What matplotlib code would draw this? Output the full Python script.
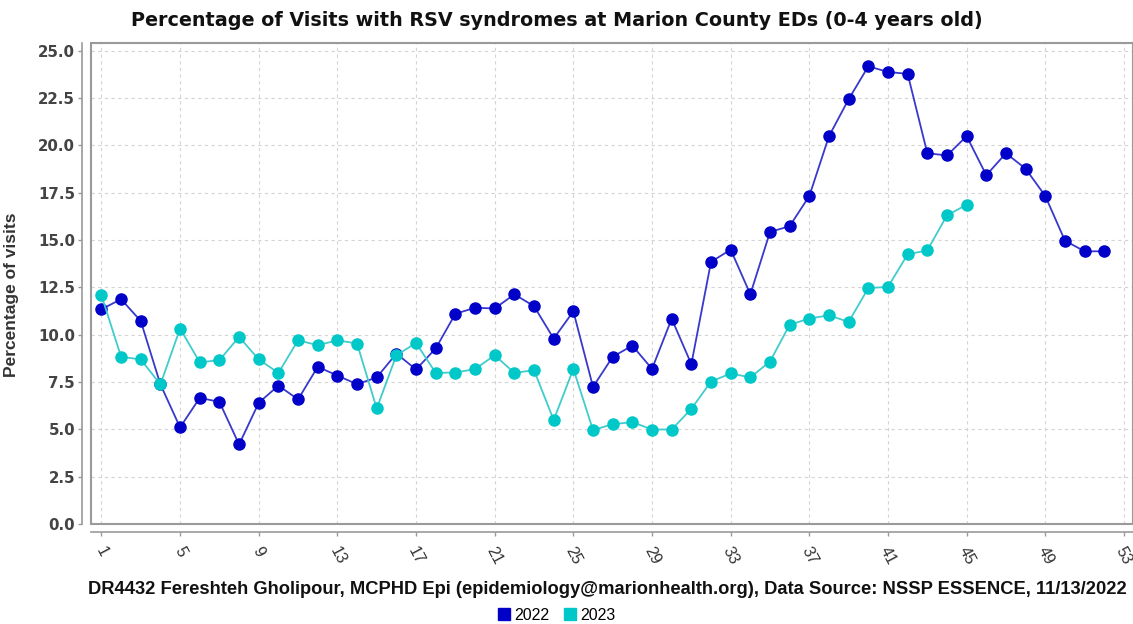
import matplotlib
matplotlib.use('Agg')
import matplotlib.pyplot as plt
from matplotlib import font_manager
from matplotlib.lines import Line2D
from matplotlib.patches import Rectangle

# ---------------- data ----------------
weeks_2022 = list(range(1, 53))
pct_2022 = [11.34, 11.87, 10.72, 7.37, 5.10, 6.66, 6.45, 4.20, 6.40, 7.31,
            6.58, 8.30, 7.84, 7.38, 7.74, 9.00, 8.16, 9.27, 11.10, 11.42,
            11.38, 12.13, 11.50, 9.79, 11.23, 7.24, 8.83, 9.42, 8.19, 10.84,
            8.44, 13.84, 14.49, 12.13, 15.42, 15.73, 17.32, 20.48, 22.43, 24.17,
            23.87, 23.77, 19.58, 19.46, 20.48, 18.42, 19.58, 18.76, 17.32, 14.96,
            14.40, 14.40]
weeks_2023 = list(range(1, 46))
pct_2023 = [12.08, 8.83, 8.69, 7.37, 10.32, 8.54, 8.65, 9.88, 8.69, 7.98,
            9.70, 9.44, 9.70, 9.53, 6.10, 8.91, 9.56, 7.98, 8.00, 8.18,
            8.91, 7.98, 8.12, 5.49, 8.19, 4.96, 5.27, 5.38, 4.99, 4.99,
            6.08, 7.52, 7.95, 7.74, 8.58, 10.52, 10.85, 11.02, 10.67, 12.46,
            12.52, 14.24, 14.45, 16.30, 16.86]
x_ticks = list(range(1, 54, 4))
y_ticks = [0.0, 2.5, 5.0, 7.5, 10.0, 12.5, 15.0, 17.5, 20.0, 22.5, 25.0]
series_labels = ['2022', '2023']

title = 'Percentage of Visits with RSV syndromes at Marion County EDs (0-4 years old)'
footer = ('DR4432 Fereshteh Gholipour, MCPHD Epi (epidemiology@marionhealth.org), '
          'Data Source: NSSP ESSENCE, 11/13/2022')
ylabel = 'Percentage of visits'

# ---------------- style ----------------
names = {f.name for f in font_manager.fontManager.ttflist}
narrow = 'Liberation Sans Narrow' if 'Liberation Sans Narrow' in names else 'Liberation Sans'

c22_m, c22_l = '#0000c8', '#3838cc'
c23_m, c23_l = '#00c8c8', '#40cccc'
axis_gray = '#9a9a9a'

W, H = 1133, 624
fig = plt.figure(figsize=(W / 100, H / 100), dpi=100)
ax = fig.add_axes([91 / W, (H - 524) / H, (W - 91) / W, (524 - 43) / H])
ax.set_xlim(0.47, 53.46)
ax.set_ylim(0, 25.4)

ax.plot(weeks_2022, pct_2022, color=c22_l, lw=1.3, marker='o', ms=8,
        mfc=c22_m, mec=c22_m, zorder=3, label=series_labels[0])
ax.plot(weeks_2023, pct_2023, color=c23_l, lw=1.3, marker='o', ms=8,
        mfc=c23_m, mec=c23_m, zorder=4, label=series_labels[1])

# frame
for s in ['top', 'right']:
    ax.spines[s].set_visible(False)
ax.spines['left'].set_position(('outward', 6.5))
ax.spines['bottom'].set_position(('outward', 5.8))
for s in ['left', 'bottom']:
    ax.spines[s].set_color(axis_gray)
    ax.spines[s].set_linewidth(1.2)
ax.add_patch(Rectangle((0, 0), 1, 1, transform=ax.transAxes, fill=False,
                       edgecolor=axis_gray, lw=1.5, clip_on=False, zorder=5))

ax.set_yticks(y_ticks)
ax.set_yticklabels([f'{v:.1f}' for v in y_ticks], fontfamily='DejaVu Sans',
                   fontweight='bold', fontsize=10.8, color='#444444')
ax.set_xticks(x_ticks)
ax.set_xticklabels([str(v) for v in x_ticks], rotation=-62, ha='center', va='top',
                   fontfamily='Liberation Sans', fontsize=11.5, color='#333333')
ax.tick_params(axis='y', direction='out', length=3, width=1, color=axis_gray, pad=2)
ax.tick_params(axis='x', direction='out', length=3, width=1, color=axis_gray, pad=6)
for lbl in ax.get_xticklabels():
    lbl.set_x(lbl.get_position()[0])

ax.grid(True, color='#d4d4d4', linestyle=(0, (3, 3)), linewidth=0.8)
ax.set_axisbelow(True)

ax.set_ylabel(ylabel, fontfamily='Liberation Sans', fontweight='bold',
              fontsize=12.5, color='#333333')
ax.yaxis.set_label_coords((19 - 91) / (W - 91), (524 - 295) / 481)

# title & footer
t_title = fig.text(556.5 / W, 1 - 20 / H, title, ha='center', va='center',
                   fontfamily='DejaVu Sans', fontweight='bold', fontsize=12, color='#111111')
t_foot = fig.text(607 / W, 1 - 590 / H, footer, ha='center', va='center',
                  fontfamily=narrow, fontweight='bold', fontsize=12, color='#111111')

fig.canvas.draw()
r = fig.canvas.get_renderer()
for t, target in [(t_title, 847), (t_foot, 1035)]:
    w = t.get_window_extent(r).width
    t.set_fontsize(t.get_fontsize() * target / w)

handles = [Line2D([], [], ls='', marker='s', ms=9, color=c22_m),
           Line2D([], [], ls='', marker='s', ms=9, color=c23_m)]
fig.legend(handles, series_labels, loc='center', bbox_to_anchor=(557 / W, 1 - 615 / H),
           ncol=2, frameon=False, handlelength=0.7, handletextpad=0.3,
           columnspacing=0.9, prop={'family': 'Liberation Sans', 'size': 11.5},
           borderpad=0)

fig.savefig('out.png', dpi=100)
